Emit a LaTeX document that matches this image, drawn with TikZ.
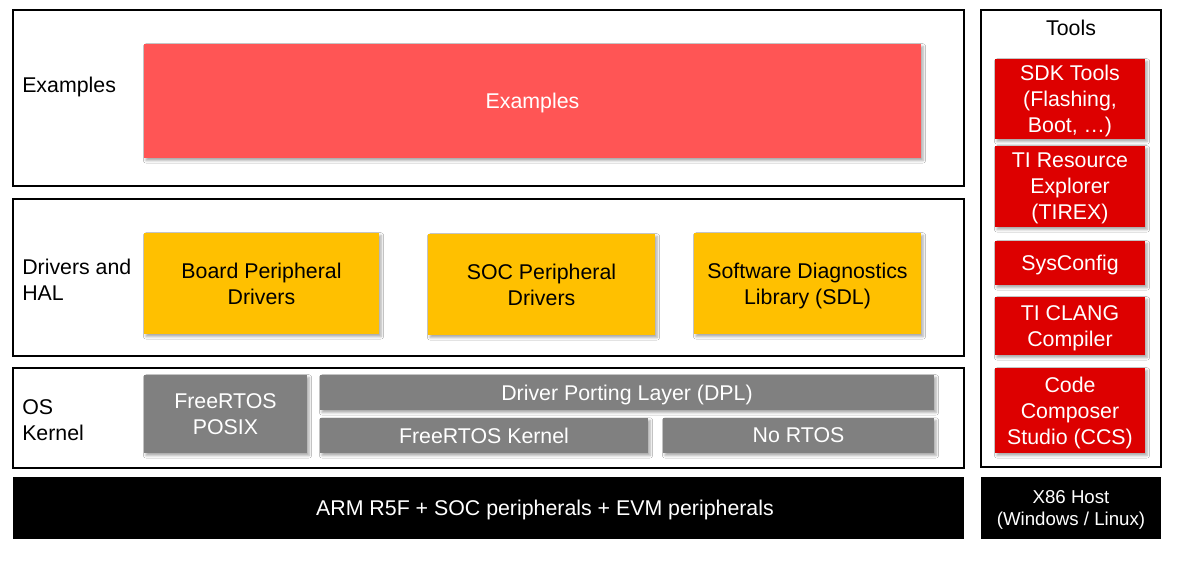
\documentclass[tikz,border=0pt]{standalone}
\usepackage{fontspec}
\setmainfont{Liberation Sans}
\usetikzlibrary{shadows.blur}
\definecolor{exred}{RGB}{255,85,85}
\definecolor{drvyellow}{RGB}{255,192,0}
\definecolor{osgray}{RGB}{128,128,128}
\definecolor{toolred}{RGB}{221,0,0}
\newcommand\mybox[7]{\node[#1, minimum width={(#4-#2)*0.75pt}, minimum height={(#5-#3)*0.75pt}] (#6) at ({(#2+#4)/2},{(#3+#5)/2}) {#7};}
\tikzset{
  base/.style={rectangle, inner sep=0pt, align=center, font=\fontsize{16}{19.5}\selectfont},
  layer/.style={base, draw=black, line width=1.5pt, fill=white},
  blackbar/.style={base, fill=black, text=white},
  shad/.style={blur shadow={shadow xshift=1.5pt, shadow yshift=-1.8pt, shadow blur radius=2pt, shadow opacity=35}},
  lower/.style={text depth=-1pt},
  exbox/.style={base, shad, fill=exred, text=white, text depth=-3pt},
  drvbox/.style={base, shad, lower, fill=drvyellow, text=black},
  osbox/.style={base, shad, lower, fill=osgray, text=white},
  toolbox/.style={base, shad, lower, fill=toolred, text=white},
  lbl/.style={inner sep=0pt, align=left, anchor=west, font=\fontsize{16}{19.5}\selectfont},
  bartext/.style={base, text=white},
}
\begin{document}
\begin{tikzpicture}[x=0.75pt,y=-0.75pt]
\useasboundingbox (0,0) rectangle (1181,569);
% layers
\mybox{layer}{13}{10}{964}{186}{exlayer}{}
\mybox{layer}{13}{199}{964}{356}{drvlayer}{}
\mybox{layer}{13}{368}{964}{468}{oslayer}{}
\mybox{blackbar}{13}{477}{964}{539}{hw}{}
\node[bartext] (hwtext) at (545,510) {ARM R5F + SOC peripherals + EVM peripherals};
\mybox{layer}{981}{10}{1161}{467}{toolslayer}{}
\mybox{blackbar}{981}{477}{1161}{539}{host}{}
\node[bartext, font=\fontsize{14}{16.8}\selectfont] (hosttext) at (1071,510) {X86 Host\\(Windows / Linux)};
% labels
\node[lbl] (exlbl) at (22,87) {Examples};
\node[lbl] (drvlbl) at (22,280) {Drivers and\\HAL};
\node[lbl] (oslbl) at (22,420) {OS\\Kernel};
\node[base] (toolslbl) at (1071,28) {Tools};
% examples
\mybox{exbox}{144}{44}{921}{158}{ex}{Examples}
% drivers
\mybox{drvbox}{144}{233}{379}{334}{board}{Board Peripheral\\Drivers}
\mybox{drvbox}{428}{234}{655}{335}{soc}{SOC Peripheral\\Drivers}
\mybox{drvbox}{694}{233}{921}{334}{sdl}{Software Diagnostics\\Library (SDL)}
% os
\mybox{osbox}{144}{375}{307}{453}{posix}{FreeRTOS\\POSIX}
\mybox{osbox}{320}{375}{934}{410}{dpl}{Driver Porting Layer (DPL)}
\mybox{osbox}{320}{418}{648}{453}{kernel}{FreeRTOS Kernel}
\mybox{osbox}{663}{418}{934}{453}{nortos}{No RTOS}
% tools
\mybox{toolbox}{995}{59}{1145}{139}{sdk}{SDK Tools\\(Flashing,\\Boot, \dots)}
\mybox{toolbox}{995}{146}{1145}{227}{tirex}{TI Resource\\Explorer\\(TIREX)}
\mybox{toolbox}{995}{241}{1145}{285}{sysconfig}{SysConfig}
\mybox{toolbox}{995}{297}{1145}{355}{clang}{TI CLANG\\Compiler}
\mybox{toolbox}{995}{368}{1145}{453}{ccs}{Code\\Composer\\Studio (CCS)}
\end{tikzpicture}
\end{document}
